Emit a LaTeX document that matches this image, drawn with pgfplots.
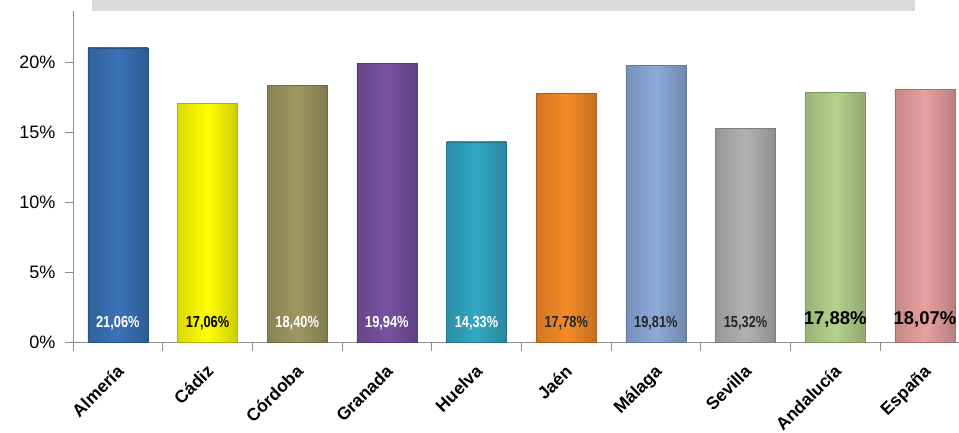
\documentclass[border=0pt]{standalone}
\usepackage{fontspec}
\setmainfont{Liberation Sans}
\newfontfamily\narrowbold[FakeStretch=0.8]{Liberation Sans}
\usepackage{pgfplots}
\pgfplotsset{compat=1.18}

\definecolor{cAlm}{HTML}{3A72B8}
\definecolor{cCad}{HTML}{FFFF00}
\definecolor{cCor}{HTML}{A09862}
\definecolor{cGra}{HTML}{7852A2}
\definecolor{cHue}{HTML}{32A8C4}
\definecolor{cJae}{HTML}{F58A28}
\definecolor{cMal}{HTML}{8CAADA}
\definecolor{cSev}{HTML}{B2B2B2}
\definecolor{cAnd}{HTML}{B4D28C}
\definecolor{cEsp}{HTML}{E8A0A0}
\definecolor{axisgray}{HTML}{8C8C8C}

% one bar plus its value label at the foot of the bar
% #1 x, #2 value, #3 fill, #4 label colour, #5 label font, #6 label yshift
\newcommand\onebar[6]{%
  \addplot[ybar, bar shift=0pt, bar width=60pt, draw=#3!70!black, line width=0.6pt,
    left color=#3!85!black, right color=#3!80!black, middle color=#3]
    coordinates {(#1,#2)};
  \addplot[draw=none, mark=none, point meta=explicit,
    nodes near coords={\pgfmathprintnumber[fixed,fixed zerofill,precision=2,use comma]{\pgfplotspointmeta}\%},
    nodes near coords style={text=#4, font=#5, anchor=center, yshift=#6}]
    coordinates {(#1,0) [#2]};
}

\begin{document}
\begin{tikzpicture}
\begin{axis}[
  scale only axis,
  width=886pt, height=331pt,
  xmin=-0.5, xmax=9.38,
  ymin=0, ymax=23.7,
  axis lines*=left,
  axis line style={axisgray, line width=0.8pt},
  tick align=outside,
  major tick length=8pt,
  minor tick length=9pt,
  ytick={0,5,10,15,20},
  yticklabel={\pgfmathprintnumber{\tick}\%},
  yticklabel style={font=\fontsize{18}{20}\selectfont, xshift=-6pt},
  y tick style={axisgray, line width=0.8pt},
  xtick={0,...,9},
  xticklabels={Almería,Cádiz,Córdoba,Granada,Huelva,Jaén,Málaga,Sevilla,Andalucía,España},
  xticklabel style={font=\bfseries\fontsize{17.5}{20}\selectfont, rotate=45,
    anchor=north east, inner sep=0pt, xshift=-11pt, yshift=-8pt},
  major x tick style={draw=none},
  minor xtick={-0.5,0.5,...,8.5},
  minor x tick style={axisgray, line width=0.8pt},
  /pgf/number format/assume math mode=true,
  clip=false,
]
\coordinate (O) at (rel axis cs:0,0);
\onebar{0}{21.06}{cAlm}{white}{\narrowbold\bfseries\fontsize{16}{18}\selectfont}{19pt}
\onebar{1}{17.06}{cCad}{black}{\narrowbold\bfseries\fontsize{16}{18}\selectfont}{19pt}
\onebar{2}{18.40}{cCor}{white}{\narrowbold\bfseries\fontsize{16}{18}\selectfont}{19pt}
\onebar{3}{19.94}{cGra}{white}{\narrowbold\bfseries\fontsize{16}{18}\selectfont}{19pt}
\onebar{4}{14.33}{cHue}{white}{\narrowbold\bfseries\fontsize{16}{18}\selectfont}{19pt}
\onebar{5}{17.78}{cJae}{black!85}{\narrowbold\bfseries\fontsize{16}{18}\selectfont}{19pt}
\onebar{6}{19.81}{cMal}{black!85}{\narrowbold\bfseries\fontsize{16}{18}\selectfont}{19pt}
\onebar{7}{15.32}{cSev}{black!85}{\narrowbold\bfseries\fontsize{16}{18}\selectfont}{19pt}
\onebar{8}{17.88}{cAnd}{black}{\bfseries\fontsize{18.5}{20}\selectfont}{23pt}
\onebar{9}{18.07}{cEsp}{black}{\bfseries\fontsize{18.5}{20}\selectfont}{23pt}
\end{axis}
\fill[black!15] (O) ++(19pt,331pt) rectangle ++(823pt,11pt);
\pgfresetboundingbox
\path[use as bounding box] (O) ++(-73pt,-91pt) rectangle ++(959pt,433pt);
\end{tikzpicture}
\end{document}
